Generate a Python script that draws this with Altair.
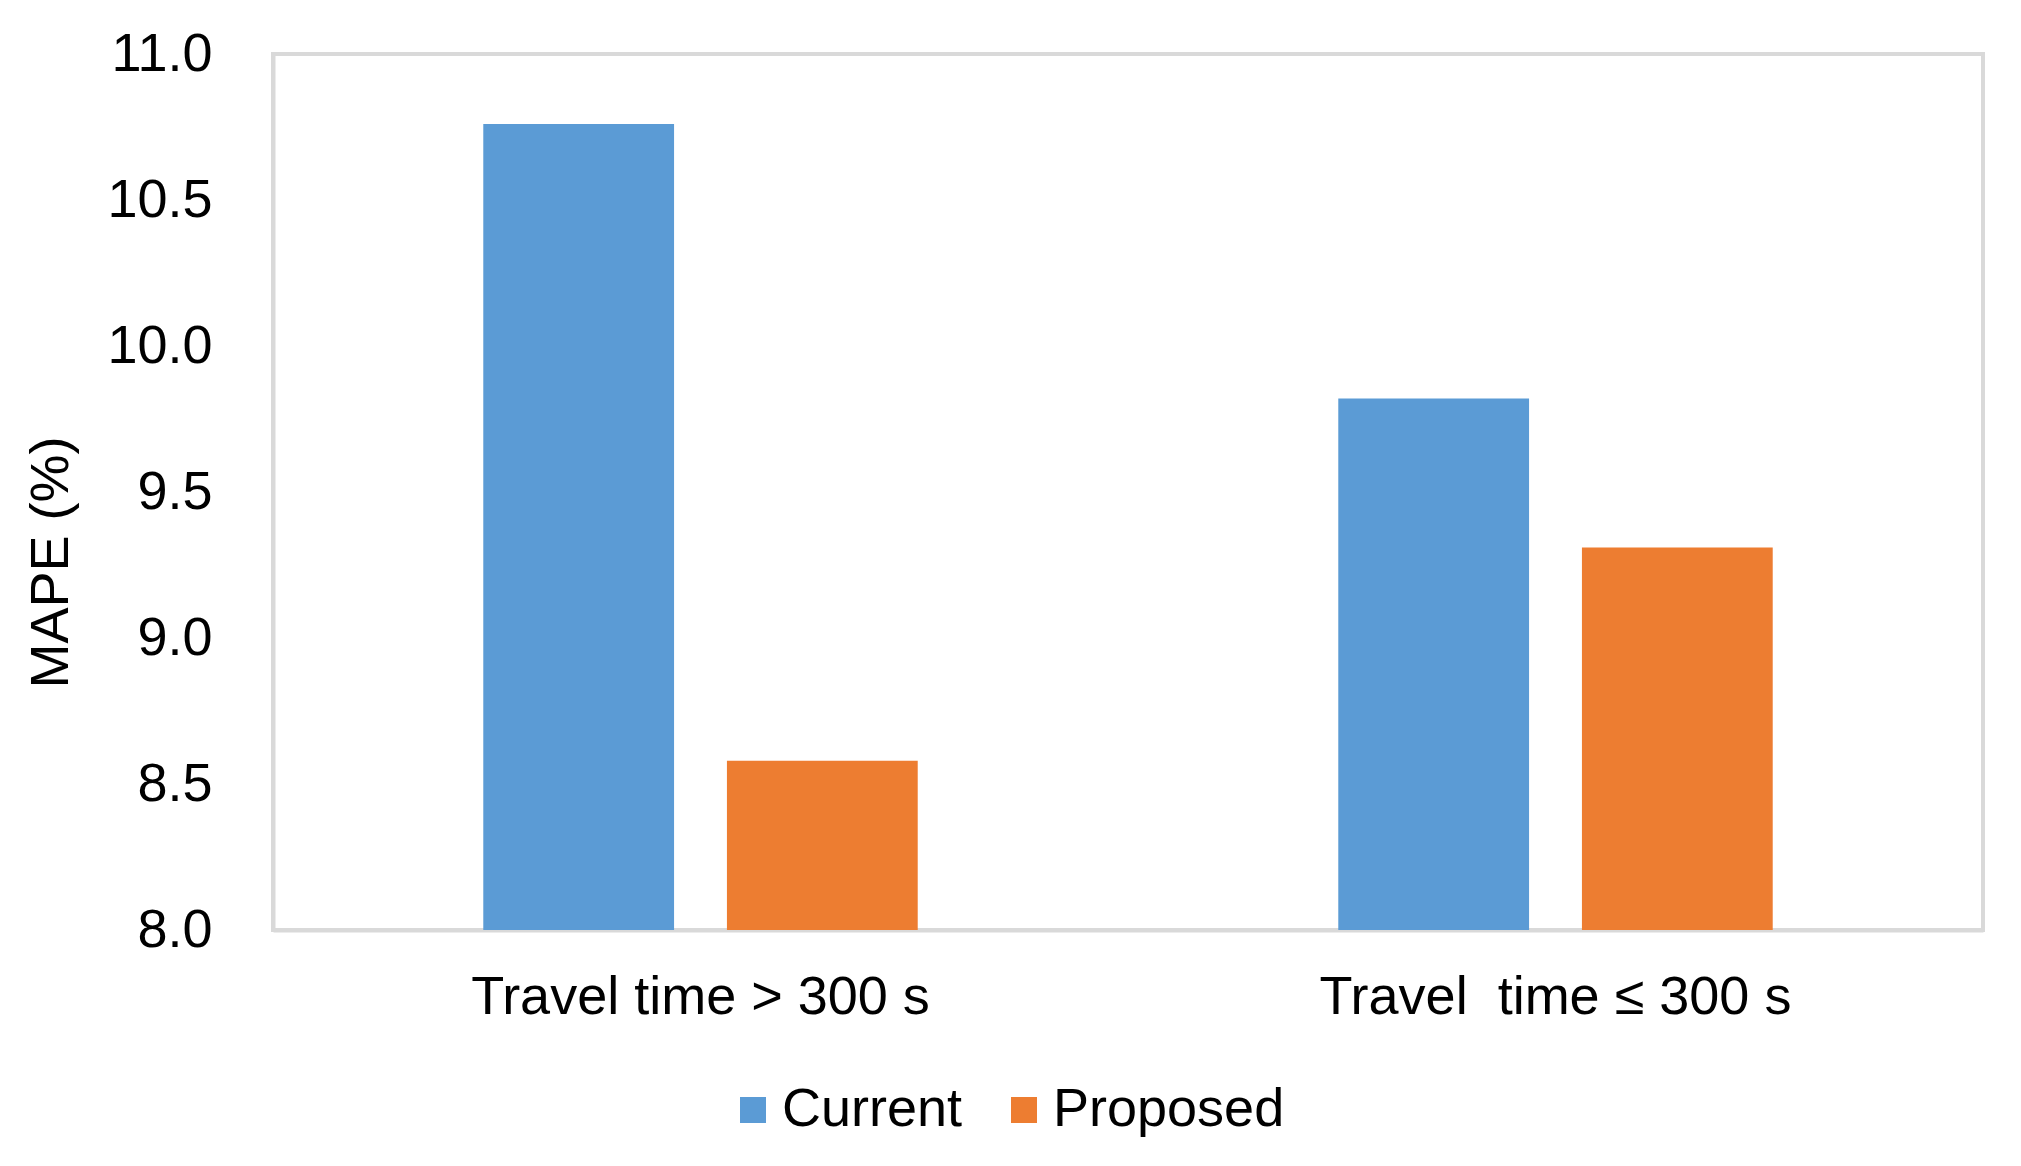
import altair as alt
import pandas as pd

categories = ["Travel time > 300 s", "Travel\u00a0 time \u2264 300 s"]
series = ["Current", "Proposed"]
current = [10.76, 9.82]
proposed = [8.58, 9.31]
y_ticks = [8.0, 8.5, 9.0, 9.5, 10.0, 10.5, 11.0]
colors = ["#5B9BD5", "#ED7D31"]

rows = []
for i, c in enumerate(categories):
    rows.append({"category": c, "series": "Current", "value": current[i]})
    rows.append({"category": c, "series": "Proposed", "value": proposed[i]})
df = pd.DataFrame(rows)

FONT = "Liberation Sans"

chart = alt.Chart(df).mark_bar().encode(
    x=alt.X("category:N", sort=categories,
            scale=alt.Scale(paddingInner=0, paddingOuter=0),
            axis=alt.Axis(title=None, labelAngle=0, ticks=False, domain=True,
                          domainColor="#d9d9d9", domainWidth=4,
                          labelFontSize=54, labelPadding=40, labelColor="black",
                          labelFont=FONT, labelLimit=0)),
    xOffset=alt.XOffset("series:N", sort=series,
                        scale=alt.Scale(paddingInner=0.217, paddingOuter=0.863)),
    y=alt.Y("value:Q",
            scale=alt.Scale(domain=[8, 11], nice=False, zero=False),
            axis=alt.Axis(values=y_ticks, format=".1f", title="MAPE (%)",
                          grid=False, domain=True, ticks=False,
                          domainColor="#d9d9d9", domainWidth=4,
                          labelFontSize=54, labelPadding=61, labelColor="black",
                          labelFont=FONT, labelLimit=0,
                          titleFont=FONT, titleFontSize=54,
                          titleFontWeight="normal", titleColor="black",
                          titleAngle=270, titleX=-206, titleY=508,
                          titleAlign="center", titleBaseline="alphabetic")),
    y2=alt.datum(8),
    color=alt.Color("series:N", sort=series,
                    scale=alt.Scale(domain=series, range=colors),
                    legend=alt.Legend(title=None, orient="none", legendX=453,
                                      legendY=1029, direction="horizontal",
                                      symbolType="square", symbolSize=676,
                                      symbolStrokeWidth=0, labelFontSize=54,
                                      labelFont=FONT, labelColor="black",
                                      labelLimit=0,
                                      labelOffset=2, columnPadding=34)),
).properties(
    width=1710,
    height=876,
    autosize=alt.AutoSizeParams(type="none"),
    padding={"left": 265, "top": 46, "right": 20, "bottom": 215},
    view=alt.ViewBackground(stroke="#d9d9d9", strokeWidth=4),
).configure(background="white")

chart.save("out.html", embed_options={"renderer": "svg", "actions": False})
